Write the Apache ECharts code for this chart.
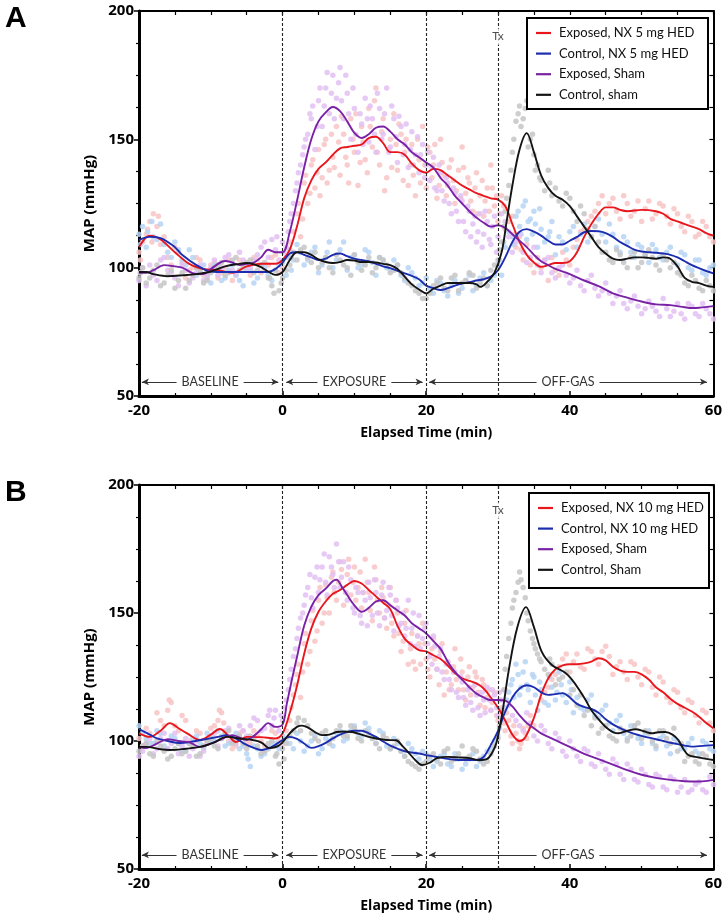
<!DOCTYPE html>
<html><head><meta charset="utf-8">
<script src="https://cdn.jsdelivr.net/npm/echarts/dist/echarts.min.js"></script>
<style>html,body{margin:0;padding:0;background:#fff}#c{width:725px;height:922px}</style>
</head><body><div id="c"></div><script>
// ---------------- DATA ----------------
const xTickValues = [-20, 0, 20, 40, 60];
const yTickValues = [50, 100, 150, 200];
const xAxisName = 'Elapsed Time (min)';
const yAxisName = 'MAP (mmHg)';
const panelLetters = ['A', 'B'];

const namesA = ['Exposed, NX 5 mg HED', 'Control, NX 5 mg HED', 'Exposed, Sham', 'Control, sham'];
const namesB = ['Exposed, NX 10 mg HED', 'Control, NX 10 mg HED', 'Exposed, Sham', 'Control, Sham'];

const eventLines = [0, 20, 30];
const txLabel = 'Tx';
const txPoint = [30, 190];
const phaseLabels = ['BASELINE', 'EXPOSURE', 'OFF-GAS'];
const phaseStart = [-19.6, 0.5, 20.4];
const phaseEnd = [-0.6, 19.5, 59.1];
const phaseLevel = 55.5;

// Panel A smoothed lines
const A_expNX = [[-20,108],[-18.5,112.5],[-17,111],[-15,106],[-13,101.5],[-11,99.5],[-9,99],[-7,98],[-5,100.5],[-3,101.5],[-1,101.5],[0,103],[1,107],[2,116],[3,127],[4,134],[5,138.5],[6,141],[7,144],[8,146.5],[9,147],[10,147.5],[11,148],[12,150.5],[13,151],[14,148.5],[15,145],[16,145],[17,144],[18,140.5],[19,138],[20,137],[21,138.5],[22,138],[23,136],[24,134],[25,132],[26,130.5],[27,129],[28,128],[29,127],[30,126.5],[31,124],[32,117],[33,110],[34,105],[35,102],[36,100.3],[37,101],[38,101.8],[39,101.8],[40,102.5],[41,106],[42,112],[43,117],[44,121],[45,123.5],[46,123.5],[47,122.5],[48,122],[50,122.5],[52,122],[53,121],[54,119],[55,118],[56,117],[57,116],[58,115],[59,113.5],[60,112.5]];
const A_ctlNX = [[-20,110.8],[-18.5,112],[-17,111.5],[-15,108],[-14,105],[-12,101],[-10,98.5],[-8,98.3],[-6,98.3],[-4,98.3],[-2,98.3],[-1,99.5],[0,102],[1,105.5],[2,106],[3,105],[4,104],[5,103],[6,103.5],[7,105],[8,105.5],[9,104.5],[10,103.5],[11,103],[12,102.5],[13,101.5],[14,100.5],[15,99.8],[16,98.8],[17,97.8],[18,96.8],[19,95.5],[20,93],[21,92],[22,91.3],[23,92],[24,93],[25,93.8],[26,94.3],[27,95],[28,95.5],[29,96.5],[30,99],[31,104],[32,110],[33,114],[34,115],[35,114],[36,112.5],[37,110.5],[38,109],[39,109],[40,110.5],[41,112],[42,113.8],[43,114.3],[44,114.2],[45,113.5],[46,112],[47,110],[48,108.5],[49,107],[50,106.3],[51,106],[52,105.8],[53,105.5],[54,105],[55,104],[56,102.5],[57,101],[58,99.8],[59,98.7],[60,97.8]];
const A_expSham = [[-20,98],[-19,98],[-18,99],[-16.5,101],[-15,100.5],[-14,100],[-12,97.5],[-11,97.5],[-10,99.5],[-8,102.6],[-7,102],[-6,101],[-5,101.5],[-4,102],[-3,104],[-2,107],[-1,106],[0,106],[1,114],[2,126],[3,139],[4,150],[5,157],[6,160.5],[7,162.6],[8,161],[9,157],[10,152.5],[11,150.5],[12,152],[13,154.5],[14,155],[15,153],[16,150],[17,148],[18,145],[19,143],[20,141],[21,139],[22,135],[23,132],[24,128],[25,125],[26,122],[27,119.5],[28,117.5],[29,116],[30,116.5],[31,115.5],[32,113],[33,110.5],[34,108],[35,105],[36,102.5],[37,101],[38,99.5],[40,97.5],[42,95],[44,92.8],[46,90],[48,88.3],[50,86.8],[52,85.7],[54,85.4],[56,84.6],[57,84.3],[58,84.4],[60,85]];
const A_ctlSham = [[-20,98.3],[-19,98.3],[-18,97.5],[-16,96.7],[-14,97],[-12,97.5],[-10,98.5],[-8,100.5],[-6,101.5],[-5,101.8],[-4,101.3],[-3,100.2],[-2,98.5],[-1,97.2],[0,98.3],[1,103],[2,106],[3,106],[4,105],[5,103.2],[6,102.2],[7,101.8],[8,102.2],[9,103],[10,102.8],[11,102.2],[12,102.2],[13,102],[14,101.5],[15,101],[16,99.5],[17,96.5],[18,93.5],[19,91.5],[20,90],[21,91.8],[22,93],[23,94],[24,94],[25,94],[26,94],[27,93.5],[27.5,92.5],[28.5,94.5],[29.5,98],[30.5,106],[31.2,118],[32,132],[33,146],[34,152.4],[35,145],[36,136],[37,131],[38,128],[39,126.5],[40,124],[41,120],[42,116],[43,112],[44,108],[45,105.5],[46,103.5],[47,103],[48,103.5],[49,104],[50,104],[51,103.8],[52,103.5],[53,104],[54,103.5],[55,100.5],[56,96],[57,94.5],[58,94],[59,93],[60,92.5]];

// Panel B smoothed lines
const B_expNX = [[-20,103],[-18.5,101.6],[-17,104],[-15.7,107],[-14.5,105],[-13.3,103],[-11.5,100.4],[-10,102.5],[-8.75,104.7],[-7.5,102],[-6.5,99.6],[-5,101.6],[-3,101.5],[-1,101],[0,103],[1,111],[2,121.5],[3,134],[4,144],[5,150.5],[6,154.5],[7,157.5],[8,159],[9,161],[10,162.5],[11,161.5],[12,159],[13,156.5],[14,154],[15,151.5],[16,145],[17,140],[18,137.5],[19,135.5],[20,135],[21,133.5],[22,132],[23,129.5],[24,126.5],[25,124.5],[26,123.5],[27,122.5],[28,120.5],[29,117],[30,113],[31,108],[32,102.5],[33,100],[33.8,101.5],[35,109],[36,118],[37,124.5],[38,128],[39,129.5],[40,130],[41,130],[42,130.3],[43,131],[44,132.3],[45,131.5],[46,129],[47,127.5],[48,127],[49,127],[50,126],[51,124],[52,121],[53,119],[54,116.5],[55,114.5],[56,113],[57,111.5],[58,109.5],[59,107],[60,105]];
const B_ctlNX = [[-20,104.7],[-18.5,102.5],[-17.5,101],[-16,100],[-14.3,99.2],[-12.5,99.8],[-11,100.6],[-9,101.6],[-7.8,102.3],[-6.5,101],[-5.5,99.2],[-4,97.3],[-3,96.5],[-1.5,97.7],[0,100.4],[1,101.6],[2,100.8],[3,99],[4,97.3],[5,98],[6,99.3],[7,101],[8,102.5],[9,103.5],[10,104],[11,104],[12,103],[13,101.6],[14,99.8],[15,98.2],[16,97],[17,96],[18,95.5],[19,95.1],[20,94.5],[21,94],[22,93.5],[23,93],[24,92.7],[25,92.6],[26,92.6],[27,92.6],[28,93.8],[29,98.5],[30,104],[31,111.5],[32,117],[33,120.5],[34,121.8],[35,121],[36,119],[37,118],[38,118.3],[39,118.7],[40,117],[41,114.5],[42,113.3],[43,112.5],[44,111],[45,108.5],[46,106.5],[47,105],[48,103.8],[49,102.8],[50,102],[51,101.3],[52,100.7],[53,100],[54,99.3],[55,98.8],[56,98.2],[57,97.8],[58,98],[59,98.2],[60,98.4]];
const B_expSham = [[-20,97.7],[-19,97.2],[-17.5,99],[-16,100.7],[-14.5,100],[-13,99.5],[-11.5,97.7],[-10,99],[-8.75,100.4],[-7,102.3],[-5,100.4],[-4,102],[-3,104.5],[-2,107],[-1,105.5],[0,106.5],[0.6,114.8],[1.3,124],[2,132.8],[3,145],[4,152.5],[5,157],[6,159.5],[7,162.5],[7.5,163],[8.3,160],[9,157],[10,153],[11,150.5],[12,152],[13,154.5],[14,155],[15,153],[16,151],[17,149],[18,146],[19,144],[20,142],[21,139],[22,136],[23,131],[24,127],[25,124],[26,121],[27,118.5],[28,117],[29,116],[30,116],[31,115.8],[32,113.5],[33,110],[34,107],[35,105],[36,103],[38,100.3],[40,97.7],[42,95],[44,92.9],[46,90.8],[48,88.6],[50,86.8],[52,85.6],[54,84.8],[56,84.3],[58,84.2],[60,84.8]];
const B_ctlSham = [[-20,97.7],[-19,97.7],[-17,96.8],[-15.7,96.5],[-13.5,97],[-11.5,97.7],[-9.5,99.5],[-7.8,101.6],[-6,101],[-4.2,100.4],[-3,99.5],[-1.8,97.2],[-0.4,98.4],[1,103],[2,105.5],[2.7,106],[3.5,105.3],[4.5,103.5],[5.5,102.3],[6.5,102.5],[7.5,103.5],[8.5,103.7],[9.7,103.5],[11,102.5],[12,101.6],[13,101],[14.4,100.4],[15.8,100.3],[16.7,98],[17.6,95.3],[18.5,92.5],[19.4,90.6],[20.5,91.5],[21.5,93.3],[23,93.8],[24.5,93.6],[26,93.3],[27.4,92.5],[28.5,93],[29.2,95.5],[29.8,99.5],[30.6,111],[31.5,127.7],[32.7,144.5],[33.9,152.3],[35,144.5],[36.1,134.8],[37.5,129.7],[39.4,126.6],[40.3,124],[41.3,120],[42.2,116],[43,112],[44,108.5],[45,105.5],[46,103.5],[46.8,103],[48,104],[49.2,104.6],[50.3,103.8],[51.4,103],[52.3,103.4],[53.3,103.5],[54.3,102.5],[55.1,100.4],[55.8,97],[56.5,94.5],[57.5,93.8],[58.3,93.4],[59,93],[60,92.6]];

// Raw (individual) measurements, panel A
const A_dotsExpNX = [[-20,106],[-19.5,110],[-19,113],[-18.5,118],[-18,121],[-17.5,116],[-17,109],[-16,104],[-15,108],[-14,102],[-13,99],[-12,104],[-11,97],[-10,101],[-9,96],[-8,100],[-7,95],[-6,103],[-5,99],[-4,104],[-3,98],[-2,101],[-1,105],[0,100],[1,110],[2,121],[2.5,112],[3,133],[3.5,125],[4,140],[4.5,131],[5,146],[5.5,135],[6,150],[6.5,138],[7,143],[7.5,155],[8,136],[8.5,152],[9,140],[9.5,158],[10,145],[10.5,132],[11,155],[11.5,142],[12,162],[12.5,147],[13,170],[13.5,140],[14,158],[14.5,135],[15,150],[15.5,160],[16,138],[16.5,152],[17,145],[17.5,132],[18,148],[18.5,128],[19,142],[19.5,155],[20,131],[20.5,145],[21,140],[21.5,127],[22,150],[22.5,136],[23,132],[23.5,142],[24,125],[24.5,138],[25,147],[25.5,129],[26,133],[26.5,122],[27,137],[27.5,128],[28,120],[28.5,131],[29,140],[29.5,124],[30,118],[30.5,128],[31,115],[32,120],[32.5,108],[33,112],[33.5,103],[34,109],[35,98],[35.5,104],[36,100],[37,95],[37.5,104],[38,99],[39,106],[40,101],[41,111],[42,115],[43,120],[44,125],[45,121],[46,127],[47,119],[48,125],[49,122],[50,118],[51,126],[52,121],[53,124],[54,117],[55,121],[56,114],[57,118],[58,113],[59,116],[60,110]];
const A_dotsExpNX2 = [[-19.8,103],[-18.8,115],[-18.2,110],[-17.3,120],[-16.5,112],[-15.5,101],[-14.5,106],[-13.5,96],[-12.5,100],[-11.5,103],[-10.5,97],[-9.5,102],[-8.5,98],[-7.5,103],[-6.5,97],[-5.5,101],[-4.5,97],[-3.5,103],[-2.5,99],[-1.5,104],[-0.5,98],[0.5,104],[1.5,114],[2.2,125],[2.8,119],[3.2,136],[3.8,129],[4.2,142],[4.8,137],[5.2,128],[5.8,148],[6.2,133],[6.8,152],[7.2,139],[7.8,149],[8.2,159],[8.8,143],[9.2,133],[9.8,150],[10.2,160],[10.8,141],[11.2,149],[11.8,137],[12.2,155],[12.8,165],[13.2,145],[13.8,153],[14.2,130],[14.8,146],[15.2,139],[15.8,148],[16.2,156],[16.8,134],[17.2,150],[17.8,140],[18.2,136],[18.8,150],[19.2,133],[19.8,140],[20.2,147],[20.8,135],[21.2,148],[21.8,132],[22.2,141],[22.8,128],[23.2,139],[23.8,134],[24.2,130],[24.8,127],[25.2,139],[25.8,135],[26.2,126],[26.8,131],[27.2,121],[27.8,134],[28.2,126],[28.8,122],[29.2,131],[29.8,128],[30.2,121],[30.8,124],[31.5,118],[32.2,113],[33.2,107],[34.5,101],[36.5,103],[38.5,97],[39.5,103],[40.5,108],[41.5,114],[42.5,118],[43.5,122],[44.5,128],[45.5,125],[46.5,122],[47.5,128],[48.5,120],[49.5,126],[50.5,123],[51.5,119],[52.5,125],[53.5,120],[54.5,123],[55.5,116],[56.5,120],[57.5,112],[58.5,118],[59.5,112]];
const A_dotsCtlNX = [[-20,113],[-19.5,116],[-19,108],[-18,112],[-17,117],[-16,106],[-15,110],[-14,103],[-13,107],[-12,97],[-11,101],[-10,94],[-9,99],[-8,96],[-7,101],[-6,95],[-5,99],[-4,94],[-3,101],[-2,97],[-1,99],[0,102],[0.5,97],[1,107],[1.5,103],[2,109],[3,101],[4,106],[5,98],[6,104],[6.5,110],[7,100],[8,107],[9,99],[10,105],[11,101],[12,106],[13,97],[14,103],[15,99],[16,101],[17,95],[18,98],[19,93],[20,96],[21,90],[22,94],[23,89],[24,95],[25,92],[26,97],[27,93],[28,98],[29,95],[30,101],[30.5,97],[31,108],[32,112],[32.5,120],[33,116],[33.5,124],[34,111],[34.5,119],[35,122],[35.5,108],[36,115],[37,112],[37.5,118],[38,105],[39,110],[40,114],[41,108],[42,117],[43,112],[44,119],[45,110],[46,113],[47,106],[48,110],[49,104],[50,108],[51,102],[52,107],[53,103],[54,108],[55,101],[56,105],[57,99],[58,103],[59,97],[60,101]];
const A_dotsCtlNX2 = [[-19.8,109],[-18.8,114],[-18.2,118],[-17.5,111],[-16.5,109],[-15.5,104],[-14.5,107],[-13.5,101],[-12.5,104],[-11.5,98],[-10.5,96],[-9.5,101],[-8.5,95],[-7.5,99],[-6.5,97],[-5.5,93],[-4.5,99],[-3.5,96],[-2.5,100],[-1.5,95],[-0.5,101],[0.8,104],[1.2,99],[2.5,106],[3.5,103],[4.5,108],[5.5,101],[6.2,106],[7.5,103],[8.5,110],[9.5,104],[10.5,100],[11.5,107],[12.5,102],[13.5,104],[14.5,100],[15.5,103],[16.5,97],[17.5,100],[18.5,96],[19.5,94],[20.5,92],[21.5,95],[22.5,91],[23.5,93],[24.5,90],[25.5,95],[26.5,91],[27.5,96],[28.5,93],[29.5,97],[30.2,103],[30.8,110],[31.5,114],[32.2,109],[32.8,122],[33.2,113],[33.8,126],[34.2,118],[34.8,113],[35.2,117],[35.8,123],[36.5,110],[37.2,114],[38.5,112],[39.5,107],[40.5,116],[41.5,113],[42.5,110],[43.5,116],[44.5,113],[45.5,117],[46.5,108],[47.5,112],[48.5,106],[49.5,109],[50.5,105],[51.5,109],[52.5,104],[53.5,106],[54.5,102],[55.5,106],[56.5,100],[57.5,103],[58.5,98],[59.5,100]];
const A_dotsExpSham = [[-20,95],[-19.5,100],[-19,93],[-18,97],[-17,103],[-16,99],[-15,96],[-14,101],[-13,94],[-12,98],[-11,95],[-10,100],[-9,97],[-8,104],[-7,99],[-6,106],[-5,100],[-4,103],[-3,108],[-2,104],[-1.5,111],[-1,107],[-0.5,103],[0,110],[0.5,108],[1,118],[1.5,125],[2,133],[2.5,140],[3,147],[3.5,152],[4,158],[4.5,146],[5,165],[5.5,155],[6,170],[6.5,160],[7,175],[7.5,166],[8,178],[8.5,158],[9,168],[9.5,150],[10,162],[10.5,145],[11,156],[11.5,166],[12,149],[12.5,158],[13,145],[13.5,162],[14,152],[14.5,170],[15,147],[15.5,158],[16,141],[16.5,155],[17,148],[17.5,139],[18,153],[18.5,144],[19,137],[19.5,148],[20,140],[20.5,134],[21,143],[21.5,130],[22,137],[22.5,126],[23,133],[23.5,121],[24,129],[24.5,118],[25,126],[25.5,114],[26,122],[26.5,117],[27,110],[27.5,121],[28,113],[28.5,118],[29,109],[29.5,120],[30,112],[31,118],[32,106],[33,113],[34,102],[35,108],[36,98],[37,104],[38,96],[39,101],[40,94],[41,99],[42,91],[43,97],[44,89],[45,94],[46,86],[47,91],[48,84],[49,89],[50,82],[51,87],[52,83],[53,88],[54,81],[55,86],[56,80],[57,85],[58,81],[59,84],[60,80]];
const A_dotsExpSham2 = [[-19.8,98],[-18.5,101],[-17.5,95],[-16.5,104],[-15.5,98],[-14.5,93],[-13.5,99],[-12.5,96],[-11.5,101],[-10.5,97],[-9.5,103],[-8.5,100],[-7.5,105],[-6.5,98],[-5.5,103],[-4.5,100],[-3.5,105],[-2.5,110],[-0.8,112],[0.2,106],[0.8,114],[1.2,121],[1.8,130],[2.2,137],[2.8,144],[3.2,150],[3.8,160],[4.2,163],[4.8,155],[5.2,170],[5.8,163],[6.2,176],[6.8,168],[7.2,158],[7.8,172],[8.2,165],[8.8,175],[9.2,160],[9.8,170],[10.2,152],[10.8,160],[11.2,148],[11.8,158],[12.2,163],[12.8,152],[13.2,168],[13.8,150],[14.2,160],[14.8,145],[15.2,163],[15.8,151],[16.2,159],[16.8,144],[17.2,156],[17.8,146],[18.2,140],[18.8,151],[19.2,144],[19.8,135],[20.2,145],[20.8,139],[21.2,131],[21.8,140],[22.2,130],[22.8,135],[23.2,125],[23.8,131],[24.2,122],[24.8,128],[25.2,118],[25.8,124],[26.2,112],[26.8,120],[27.2,114],[27.8,108],[28.2,122],[28.8,111],[29.2,116],[29.8,106],[30.5,121],[31.5,112],[32.5,110],[33.5,106],[34.5,104],[35.5,101],[36.5,103],[37.5,98],[38.5,100],[39.5,97],[40.5,96],[41.5,93],[42.5,95],[43.5,92],[44.5,91],[45.5,90],[46.5,89],[47.5,86],[48.5,87],[49.5,85],[50.5,84],[51.5,85],[52.5,81],[53.5,84],[54.5,83],[55.5,82],[56.5,86],[57.5,82],[58.5,86],[59.5,82]];
const A_dotsCtlSham = [[-20,96],[-19.5,100],[-19,94],[-18,99],[-17,93],[-16,97],[-15,92],[-14,98],[-13,95],[-12,100],[-11,94],[-10,98],[-9,101],[-8,97],[-7,103],[-6,99],[-5,102],[-4,98],[-3,101],[-2,96],[-1.5,93],[-1,99],[-0.5,91],[0,96],[1,101],[1.5,106],[2,103],[3,108],[4,102],[5,100],[6,104],[7,98],[8,103],[9,100],[10,105],[11,99],[12,104],[13,100],[14,103],[15,98],[16,101],[17,96],[18,93],[19,90],[20,88],[21,93],[22,96],[23,91],[24,97],[25,94],[26,98],[27,92],[28,96],[29,99],[30,103],[30.5,110],[31,122],[31.5,132],[32,145],[32.5,157],[33,163],[33.5,158],[34,165],[34.5,150],[35,144],[35.5,140],[36,134],[37,138],[37.5,128],[38,131],[39,124],[40,127],[41,118],[42,121],[43,112],[44,110],[45,106],[46,102],[47,105],[48,100],[49,106],[50,102],[51,107],[52,101],[53,105],[54,100],[55,98],[56,94],[57,97],[58,92],[59,95],[60,91]];
const A_dotsCtlSham2 = [[-19.8,98],[-18.5,96],[-17.5,101],[-16.5,94],[-15.5,99],[-14.5,95],[-13.5,92],[-12.5,97],[-11.5,99],[-10.5,95],[-9.5,100],[-8.5,102],[-7.5,98],[-6.5,104],[-5.5,100],[-4.5,103],[-3.5,99],[-2.5,102],[-1.8,96],[-1.2,90],[-0.2,94],[0.5,99],[1.2,104],[2.5,107],[3.5,104],[4.5,106],[5.5,102],[6.5,100],[7.5,105],[8.5,101],[9.5,97],[10.5,102],[11.5,101],[12.5,98],[13.5,104],[14.5,101],[15.5,99],[16.5,98],[17.5,94],[18.5,91],[19.5,88],[20.5,90],[21.5,94],[22.5,92],[23.5,96],[24.5,91],[25.5,95],[26.5,97],[27.5,94],[28.5,93],[29.5,101],[30.2,107],[30.8,116],[31.2,127],[31.8,138],[32.2,150],[32.8,160],[33.2,155],[33.8,162],[34.2,147],[34.8,152],[35.2,138],[35.8,135],[36.5,130],[37.2,133],[38.5,126],[39.5,129],[40.5,122],[41.5,124],[42.5,115],[43.5,116],[44.5,106],[45.5,103],[46.5,107],[47.5,102],[48.5,104],[49.5,100],[50.5,105],[51.5,104],[52.5,99],[53.5,103],[54.5,102],[55.5,97],[56.5,93],[57.5,95],[58.5,91],[59.5,93]];

// Raw (individual) measurements, panel B
const B_dotsExpNX = [[-20,101],[-19,105],[-18,99],[-17,108],[-16,112],[-15.5,115],[-15,106],[-14,110],[-13,100],[-12,104],[-11,98],[-10,105],[-9,108],[-8.5,111],[-8,102],[-7,97],[-6,103],[-5,99],[-4,104],[-3,100],[-2,97],[-1,103],[0,99],[1,108],[1.5,118],[2,126],[2.5,117],[3,138],[3.5,130],[4,147],[4.5,139],[5,155],[5.5,146],[6,161],[6.5,150],[7,166],[7.5,155],[8,170],[8.5,153],[9,165],[9.5,157],[10,168],[10.5,160],[11,152],[11.5,171],[12,158],[12.5,147],[13,163],[13.5,150],[14,156],[14.5,144],[15,160],[15.5,141],[16,150],[16.5,135],[17,146],[17.5,130],[18,142],[18.5,128],[19,138],[19.5,146],[20,132],[20.5,125],[21,140],[21.5,128],[22,135],[22.5,118],[23,131],[23.5,122],[24,136],[24.5,120],[25,127],[25.5,116],[26,129],[26.5,121],[27,125],[27.5,114],[28,122],[28.5,117],[29,112],[29.5,119],[30,108],[30.5,113],[31,104],[31.5,108],[32,99],[32.5,103],[33,97],[33.5,105],[34,101],[34.5,110],[35,106],[36,116],[37,121],[38,126],[39,132],[40,127],[41,134],[42,128],[43,135],[44,130],[45,137],[46,126],[47,131],[48,124],[49,130],[50,122],[51,127],[52,118],[53,123],[54,115],[55,119],[56,111],[57,115],[58,107],[59,111],[60,104]];
const B_dotsExpNX2 = [[-19.5,98],[-18.5,103],[-17.5,111],[-16.5,106],[-15.8,116],[-14.5,104],[-13.5,108],[-12.5,98],[-11.5,103],[-10.5,100],[-9.5,106],[-8.8,112],[-8.2,107],[-7.5,100],[-6.5,98],[-5.5,104],[-4.5,99],[-3.5,102],[-2.5,98],[-1.5,104],[-0.5,100],[0.5,104],[1.2,113],[1.8,122],[2.2,130],[2.8,127],[3.2,142],[3.8,135],[4.2,151],[4.8,143],[5.2,160],[5.8,150],[6.2,156],[6.8,164],[7.2,158],[7.8,162],[8.2,167],[8.8,158],[9.2,171],[9.8,162],[10.2,155],[10.8,166],[11.2,158],[11.8,162],[12.2,151],[12.8,168],[13.2,155],[13.8,160],[14.2,148],[14.8,153],[15.2,146],[15.8,155],[16.2,142],[16.8,139],[17.2,151],[17.8,136],[18.2,131],[18.8,141],[19.2,130],[19.8,138],[20.2,128],[20.8,136],[21.2,132],[21.8,122],[22.2,138],[22.8,127],[23.2,120],[23.8,129],[24.2,124],[24.8,132],[25.2,120],[25.8,125],[26.2,118],[26.8,127],[27.2,119],[27.8,124],[28.2,113],[28.8,120],[29.2,115],[29.8,110],[30.2,116],[30.8,107],[31.2,111],[31.8,102],[32.2,106],[32.8,100],[33.2,99],[33.8,103],[34.2,106],[35.5,112],[36.5,119],[37.5,124],[38.5,129],[39.5,134],[40.5,131],[41.5,129],[42.5,136],[43.5,132],[44.5,135],[45.5,133],[46.5,129],[47.5,127],[48.5,131],[49.5,125],[50.5,128],[51.5,121],[52.5,125],[53.5,117],[54.5,120],[55.5,113],[56.5,116],[57.5,110],[58.5,112],[59.5,107]];
const B_dotsCtlNX = [[-20,106],[-19,101],[-18,99],[-17,103],[-16,97],[-15,101],[-14,96],[-13,99],[-12,102],[-11,97],[-10,100],[-9,104],[-8,98],[-7,101],[-6,97],[-5,95],[-4.5,90],[-4,98],[-3,94],[-2,97],[-1,99],[0,102],[1,99],[2,103],[3,96],[4,100],[5,95],[6,101],[7,98],[8,104],[9,101],[10,106],[11,102],[12,105],[13,99],[14,103],[15,97],[16,99],[17,94],[18,97],[19,93],[20,95],[21,90],[22,94],[23,91],[24,95],[25,89],[26,93],[27,90],[28,94],[29,97],[30,102],[30.5,108],[31,113],[31.5,119],[32,124],[32.5,130],[33,118],[33.5,127],[34,122],[34.5,115],[35,125],[35.5,112],[36,120],[37,114],[37.5,121],[38,116],[38.5,127],[39,118],[40,123],[40.5,111],[41,117],[42,112],[43,118],[44,109],[45,114],[46,104],[47,110],[48,101],[49,106],[50,99],[51,104],[52,97],[53,102],[54,95],[55,100],[56,97],[57,101],[58,95],[59,99],[60,96]];
const B_dotsCtlNX2 = [[-19.5,103],[-18.5,99],[-17.5,104],[-16.5,98],[-15.5,102],[-14.5,99],[-13.5,96],[-12.5,101],[-11.5,99],[-10.5,103],[-9.5,100],[-8.5,102],[-7.5,99],[-6.5,103],[-5.5,98],[-4.8,93],[-3.5,97],[-2.5,95],[-1.5,99],[-0.5,97],[0.5,101],[1.5,97],[2.5,100],[3.5,98],[4.5,102],[5.5,97],[6.5,100],[7.5,103],[8.5,100],[9.5,104],[10.5,103],[11.5,107],[12.5,101],[13.5,104],[14.5,98],[15.5,101],[16.5,96],[17.5,99],[18.5,95],[19.5,96],[20.5,93],[21.5,92],[22.5,95],[23.5,90],[24.5,93],[25.5,91],[26.5,95],[27.5,92],[28.5,96],[29.5,100],[30.2,105],[30.8,111],[31.2,116],[31.8,122],[32.2,117],[32.8,126],[33.2,121],[33.8,131],[34.2,120],[34.8,126],[35.2,118],[35.8,123],[36.5,115],[37.2,125],[38.2,119],[38.8,122],[39.5,115],[40.2,120],[41.5,113],[42.5,116],[43.5,110],[44.5,112],[45.5,107],[46.5,108],[47.5,103],[48.5,106],[49.5,101],[50.5,103],[51.5,99],[52.5,101],[53.5,98],[54.5,101],[55.5,97],[56.5,99],[57.5,96],[58.5,100],[59.5,97]];
const B_dotsExpSham = [[-20,94],[-19,99],[-18,95],[-17,101],[-16,97],[-15,103],[-14,98],[-13,94],[-12,100],[-11,96],[-10,102],[-9,98],[-8,104],[-7,100],[-6,106],[-5,102],[-4,109],[-3,104],[-2,110],[-1.5,106],[-1,112],[-0.5,104],[0,108],[0.5,116],[1,124],[1.5,133],[2,140],[2.5,148],[3,153],[3.5,160],[4,156],[4.5,164],[5,158],[5.5,168],[6,162],[6.5,172],[7,165],[7.5,177],[8,160],[8.5,170],[9,155],[9.5,163],[10,150],[10.5,158],[11,146],[11.5,155],[12,162],[12.5,149],[13,158],[13.5,145],[14,162],[14.5,151],[15,157],[15.5,143],[16,152],[16.5,146],[17,141],[17.5,155],[18,144],[18.5,137],[19,149],[19.5,140],[20,146],[20.5,133],[21,141],[21.5,128],[22,136],[22.5,124],[23,131],[23.5,120],[24,127],[24.5,117],[25,123],[25.5,114],[26,121],[26.5,112],[27,118],[27.5,110],[28,116],[28.5,121],[29,112],[29.5,118],[30,110],[30.5,116],[31,120],[32,110],[33,106],[34,111],[35,102],[36,106],[37,99],[38,103],[39,96],[40,100],[41,94],[42,97],[43,91],[44,95],[45,89],[46,93],[47,87],[48,91],[49,85],[50,89],[51,83],[52,87],[53,82],[54,86],[55,80],[56,85],[57,81],[58,84],[59,80],[60,83]];
const B_dotsExpSham2 = [[-19.5,96],[-18.5,101],[-17.5,97],[-16.5,103],[-15.5,99],[-14.5,95],[-13.5,101],[-12.5,97],[-11.5,94],[-10.5,99],[-9.5,103],[-8.5,101],[-7.5,105],[-6.5,99],[-5.5,104],[-4.5,106],[-3.5,108],[-2.5,105],[-1.8,112],[-1.2,109],[-0.2,110],[0.2,113],[0.8,120],[1.2,128],[1.8,136],[2.2,144],[2.8,150],[3.2,157],[3.8,165],[4.2,152],[4.8,168],[5.2,163],[5.8,173],[6.2,157],[6.8,168],[7.2,160],[7.8,170],[8.2,164],[8.8,158],[9.2,168],[9.8,152],[10.2,160],[10.8,149],[11.2,158],[11.8,145],[12.2,156],[12.8,163],[13.2,150],[13.8,157],[14.2,148],[14.8,160],[15.2,149],[15.8,155],[16.2,145],[16.8,150],[17.2,144],[17.8,138],[18.2,150],[18.8,141],[19.2,136],[19.8,144],[20.2,138],[20.8,130],[21.2,137],[21.8,133],[22.2,127],[22.8,130],[23.2,124],[23.8,127],[24.2,119],[24.8,125],[25.2,117],[25.8,120],[26.2,115],[26.8,122],[27.2,113],[27.8,119],[28.2,111],[28.8,116],[29.2,120],[29.8,113],[30.2,119],[30.8,112],[31.5,114],[32.5,108],[33.5,104],[34.5,107],[35.5,100],[36.5,104],[37.5,97],[38.5,101],[39.5,94],[40.5,97],[41.5,92],[42.5,96],[43.5,90],[44.5,92],[45.5,87],[46.5,91],[47.5,85],[48.5,89],[49.5,84],[50.5,87],[51.5,82],[52.5,86],[53.5,81],[54.5,85],[55.5,82],[56.5,80],[57.5,83],[58.5,81],[59.5,86]];
const B_dotsCtlSham = [[-20,96],[-19,99],[-18,94],[-17,98],[-16,93],[-15,97],[-14,95],[-13,99],[-12,94],[-11,98],[-10,101],[-9,97],[-8,103],[-7,99],[-6,102],[-5,97],[-4,101],[-3,95],[-2,99],[-1,94],[-0.5,91],[0,97],[1,102],[2,107],[2.5,104],[3,108],[4,103],[5,100],[6,104],[7,101],[8,106],[9,102],[10,105],[11,100],[12,103],[13,99],[14,102],[15,97],[16,100],[17,94],[18,91],[19,89],[20,92],[21,95],[22,91],[23,97],[24,93],[25,98],[26,94],[27,96],[28,91],[29,95],[30,101],[30.5,112],[31,128],[31.5,140],[32,152],[32.5,158],[33,166],[33.5,160],[34,150],[34.5,143],[35,138],[35.5,134],[36,131],[37,126],[37.5,130],[38,122],[39,125],[40,118],[41,114],[42,110],[43,106],[44,103],[45,106],[46,101],[47,105],[48,100],[49,106],[50,101],[51,103],[52,98],[53,104],[54,99],[55,96],[56,92],[57,95],[58,91],[59,94],[60,90]];
const B_dotsCtlSham2 = [[-19.5,98],[-18.5,95],[-17.5,100],[-16.5,96],[-15.5,94],[-14.5,99],[-13.5,96],[-12.5,98],[-11.5,95],[-10.5,100],[-9.5,98],[-8.5,101],[-7.5,104],[-6.5,100],[-5.5,99],[-4.5,102],[-3.5,98],[-2.5,96],[-1.5,100],[-0.8,95],[0.2,93],[0.5,99],[1.5,104],[2.2,109],[3.5,106],[4.5,101],[5.5,103],[6.5,99],[7.5,104],[8.5,102],[9.5,106],[10.5,101],[11.5,104],[12.5,101],[13.5,97],[14.5,101],[15.5,98],[16.5,96],[17.5,92],[18.5,90],[19.5,91],[20.5,94],[21.5,93],[22.5,96],[23.5,92],[24.5,95],[25.5,93],[26.5,97],[27.5,93],[28.5,92],[29.5,98],[30.2,106],[30.8,120],[31.2,133],[31.8,146],[32.2,155],[32.8,162],[33.2,163],[33.8,156],[34.2,147],[34.8,140],[35.2,136],[35.8,132],[36.5,128],[37.2,132],[38.5,124],[39.5,127],[40.5,120],[41.5,118],[42.5,112],[43.5,109],[44.5,105],[45.5,102],[46.5,100],[47.5,104],[48.5,102],[49.5,107],[50.5,104],[51.5,100],[52.5,104],[53.5,101],[54.5,105],[55.5,99],[56.5,94],[57.5,92],[58.5,95],[59.5,91]];

// ---------------- STYLE ----------------
const FONT = '"Open Sans", "Noto Sans", sans-serif';
const LFONT = 'Lato, "Noto Sans", sans-serif';
const lineColors = ['#e8161d', '#1c2db0', '#7a22a6', '#141414'];
const dotColors = ['#f8c4c4', '#b6d3f4', '#e2bff2', '#c6c6c6'];
const grids = [
  {left: 139, top: 11, width: 575, height: 385},
  {left: 139, top: 485, width: 575, height: 384}
];
const legendBoxes = [
  {x: 526, y: 17, w: 181, h: 91},
  {x: 528, y: 492, w: 180, h: 95}
];

const panels = [
  {names: namesA, lines: [A_expNX, A_ctlNX, A_expSham, A_ctlSham],
   dots: [A_dotsExpNX.concat(A_dotsExpNX2), A_dotsCtlNX.concat(A_dotsCtlNX2), A_dotsExpSham.concat(A_dotsExpSham2), A_dotsCtlSham.concat(A_dotsCtlSham2)]},
  {names: namesB, lines: [B_expNX, B_ctlNX, B_expSham, B_ctlSham],
   dots: [B_dotsExpNX.concat(B_dotsExpNX2), B_dotsCtlNX.concat(B_dotsCtlNX2), B_dotsExpSham.concat(B_dotsExpSham2), B_dotsCtlSham.concat(B_dotsCtlSham2)]}
];

const xAxes = [], yAxes = [], series = [], legends = [], graphics = [];
const xmin = xTickValues[0], xmax = xTickValues[xTickValues.length - 1];
const ymin = yTickValues[0], ymax = yTickValues[yTickValues.length - 1];

panels.forEach((p, gi) => {
  xAxes.push({
    type: 'value', gridIndex: gi, min: xmin, max: xmax, interval: xTickValues[1] - xTickValues[0],
    axisLine: {onZero: false, lineStyle: {color: '#000', width: 3}},
    axisTick: {inside: true, length: 5, lineStyle: {color: '#000', width: 1.5}},
    minorTick: {show: true, splitNumber: 4, length: 3, lineStyle: {color: '#000', width: 1.2}},
    axisLabel: {color: '#000', fontWeight: 'bold', fontSize: 15, fontFamily: FONT, margin: 7},
    splitLine: {show: false},
    name: xAxisName, nameLocation: 'middle', nameGap: 30,
    nameTextStyle: {color: '#000', fontWeight: 'bold', fontSize: 14, fontFamily: FONT}
  });
  xAxes.push({
    type: 'value', gridIndex: gi, position: 'top', min: xmin, max: xmax, interval: 5,
    axisLine: {onZero: false, lineStyle: {color: '#000', width: 2}},
    axisTick: {inside: true, length: 4, lineStyle: {color: '#000', width: 1.2}},
    axisLabel: {show: false}, splitLine: {show: false}
  });
  yAxes.push({
    type: 'value', gridIndex: gi, min: ymin, max: ymax, interval: yTickValues[1] - yTickValues[0],
    axisLine: {onZero: false, lineStyle: {color: '#000', width: 3}},
    axisTick: {inside: false, length: 5, lineStyle: {color: '#000', width: 1.5}},
    minorTick: {show: true, splitNumber: 4, length: 3, lineStyle: {color: '#000', width: 1.2}},
    axisLabel: {color: '#000', fontWeight: 'bold', fontSize: 15, fontFamily: FONT, margin: 5},
    splitLine: {show: false},
    name: yAxisName, nameLocation: 'middle', nameGap: 38, nameRotate: 90,
    nameTextStyle: {color: '#000', fontWeight: 'bold', fontSize: 15, fontFamily: FONT}
  });
  yAxes.push({
    type: 'value', gridIndex: gi, position: 'right', min: ymin, max: ymax, interval: 12.5,
    axisLine: {onZero: false, lineStyle: {color: '#000', width: 2}},
    axisTick: {inside: true, length: 4, lineStyle: {color: '#000', width: 1.2}},
    axisLabel: {show: false}, splitLine: {show: false}
  });
  const xi = gi * 2, yi = gi * 2;

  // raw dots
  p.dots.forEach((d, k) => {
    series.push({
      type: 'scatter', name: 'raw' + gi + k, xAxisIndex: xi, yAxisIndex: yi, data: d,
      symbolSize: 5.5, itemStyle: {color: dotColors[k], opacity: 0.85}, z: 2, silent: true, animation: false
    });
  });
  // event lines on first dots series
  series[series.length - 4].markLine = {
    silent: true, animation: false, symbol: 'none',
    lineStyle: {color: '#222', type: [3, 2], width: 1.1},
    label: {show: false},
    data: eventLines.map(v => ({xAxis: v}))
  };
  // phase arrows on second dots series
  series[series.length - 3].markLine = {
    silent: true, animation: false, symbol: ['arrow', 'arrow'], symbolSize: [5, 7],
    lineStyle: {color: '#333', type: 'solid', width: 1},
    label: {show: true, position: 'middle', distance: 0, formatter: '{b}', color: '#333',
      fontSize: 12.5, fontFamily: LFONT, backgroundColor: '#fff', padding: [1, 5], verticalAlign: 'middle'},
    data: phaseLabels.map((lab, i) => [
      {coord: [phaseStart[i], phaseLevel], name: lab},
      {coord: [phaseEnd[i], phaseLevel]}
    ])
  };
  // Tx label
  series.push({
    type: 'scatter', name: 'tx' + gi, xAxisIndex: xi, yAxisIndex: yi, data: [txPoint],
    symbol: 'circle', symbolSize: 1, itemStyle: {color: 'rgba(0,0,0,0)'}, z: 6, silent: true, animation: false,
    label: {show: true, position: 'inside', formatter: txLabel, color: '#222', fontSize: 11.5,
      fontFamily: LFONT, backgroundColor: '#fff', padding: [2, 1]}
  });
  // lines
  p.lines.forEach((d, k) => {
    series.push({
      type: 'line', name: p.names[k], xAxisIndex: xi, yAxisIndex: yi, data: d,
      smooth: 0.35, showSymbol: false, symbol: 'none', z: 4, animation: false,
      lineStyle: {color: lineColors[k], width: 1.9}, itemStyle: {color: lineColors[k]}
    });
  });

  const lb = legendBoxes[gi];
  legends.push({
    data: p.names, orient: 'vertical', left: lb.x + 10, top: lb.y + 9, z: 20,
    icon: 'rect', itemWidth: 15, itemHeight: 2.2, itemGap: 6.6,
    selectedMode: false, padding: 0,
    textStyle: {color: '#111', fontSize: 13, fontFamily: LFONT, lineHeight: 14, padding: [0, 0, 0, 3]}
  });
  graphics.push({
    type: 'rect', left: lb.x, top: lb.y, z: 5,
    shape: {width: lb.w, height: lb.h},
    style: {fill: '#fff', stroke: '#000', lineWidth: 2}
  });
  graphics.push({
    type: 'text', left: 5, top: gi === 0 ? 4 : 478, z: 5,
    style: {text: panelLetters[gi], font: 'bold 30px "Liberation Sans", Arial, sans-serif', fill: '#000'}
  });
});

const chart = echarts.init(document.getElementById('c'), null, {renderer: 'canvas'});
chart.setOption({
  backgroundColor: '#fff',
  animation: false,
  grid: grids,
  xAxis: xAxes,
  yAxis: yAxes,
  legend: legends,
  graphic: graphics,
  series: series
});
</script></body></html>
